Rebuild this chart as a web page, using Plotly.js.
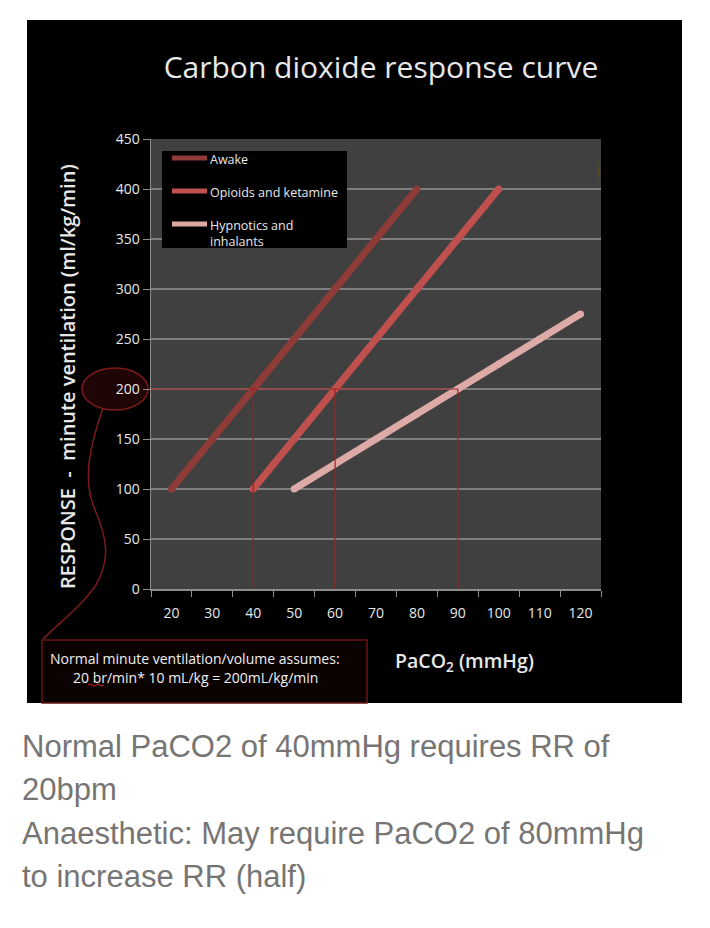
<!DOCTYPE html>
<html>
<head>
<meta charset="utf-8">
<script src="https://cdn.plot.ly/plotly-3.0.1.min.js"></script>
<style>
  html, body { margin: 0; padding: 0; background: #ffffff; }
  #chart { width: 710px; height: 928px; }
</style>
</head>
<body>
<div id="chart"></div>
<script>
// PaCO2 (mmHg) category labels on the x axis
const paco2Ticks = [20, 30, 40, 50, 60, 70, 80, 90, 100, 110, 120];

// Minute ventilation (ml/kg/min) for each condition
const awakeX = [20, 30, 40, 50, 60, 70, 80];
const awakeY = [100, 150, 200, 250, 300, 350, 400];

const opioidX = [40, 50, 60, 70, 80, 90, 100];
const opioidY = [100, 150, 200, 250, 300, 350, 400];

const hypnoticX = [50, 60, 70, 80, 90, 100, 110, 120];
const hypnoticY = [100, 125, 150, 175, 200, 225, 250, 275];

// Target ventilation and the PaCO2 at which each curve reaches it
const targetVent = 200;
const targetPaco2 = [40, 60, 90];

const seriesNames = ['Awake', 'Opioids and ketamine', 'Hypnotics and<br>inhalants'];
const seriesColors = ['#8f3b37', '#c0504d', '#ddaaa8'];

const captionLines = [
  'Normal PaCO2 of 40mmHg requires RR of',
  '20bpm',
  'Anaesthetic: May require PaCO2 of 80mmHg',
  'to increase RR (half)'
];

// page layout: plot area spans 151..601 px horizontally, 139..589 px vertically
const M = { l: 151, r: 109, t: 139, b: 339 };
const W = 710, H = 928;
const PW = W - M.l - M.r, PH = H - M.t - M.b;
const px = v => (v - M.l) / PW;       // page px -> paper x
const py = v => (H - M.b - v) / PH;   // page px -> paper y

const LW = 7;
function curve(x, y, name, color) {
  return {
    type: 'scatter', mode: 'lines+markers', x: x, y: y, name: name,
    line: { color: color, width: LW },
    marker: { color: color, size: LW },
    showlegend: false, hoverinfo: 'x+y+name'
  };
}

const traces = [
  curve(awakeX, awakeY, 'Awake', seriesColors[0]),
  curve(opioidX, opioidY, 'Opioids and ketamine', seriesColors[1]),
  curve(hypnoticX, hypnoticY, 'Hypnotics and inhalants', seriesColors[2])
];

const refRed = '#a51e1e';
const darkRed = '#7d1a1a';

const shapes = [
  // black slide background
  { type: 'rect', xref: 'paper', yref: 'paper', layer: 'below',
    x0: px(27), x1: px(682), y0: py(703), y1: py(20),
    fillcolor: '#000000', line: { width: 0 } },
  // plot area fill
  { type: 'rect', xref: 'paper', yref: 'paper', layer: 'below',
    x0: 0, x1: 1, y0: 0, y1: 1, fillcolor: '#404040', line: { width: 0 } },
  // highlight ellipse around the 200 tick
  { type: 'circle', xref: 'paper', yref: 'paper', layer: 'below',
    x0: px(82), x1: px(148), y0: py(410), y1: py(368),
    fillcolor: '#1f0505', line: { color: darkRed, width: 1.5 } },
  // connector from ellipse to the note box
  { type: 'path', xref: 'paper', yref: 'paper', layer: 'below',
    path: 'M' + px(103) + ',' + py(408) +
          ' C' + px(90) + ',' + py(445) + ' ' + px(82) + ',' + py(480) + ' ' + px(95) + ',' + py(510) +
          ' C' + px(108) + ',' + py(540) + ' ' + px(110) + ',' + py(560) + ' ' + px(96) + ',' + py(585) +
          ' C' + px(80) + ',' + py(608) + ' ' + px(60) + ',' + py(622) + ' ' + px(43) + ',' + py(639),
    line: { color: darkRed, width: 1.5 } },
  // note box
  { type: 'rect', xref: 'paper', yref: 'paper', layer: 'below',
    x0: px(42), x1: px(367), y0: py(703), y1: py(640),
    fillcolor: '#0b0202', line: { color: '#6a1414', width: 1.5 } },
  // spell-check squiggle under "br"
  { type: 'path', xref: 'paper', yref: 'paper', layer: 'above',
    path: 'M' + px(88) + ',' + py(685) +
          ' Q' + px(90) + ',' + py(683) + ' ' + px(92) + ',' + py(685) +
          ' Q' + px(94) + ',' + py(687) + ' ' + px(96) + ',' + py(685) +
          ' Q' + px(98) + ',' + py(683) + ' ' + px(100) + ',' + py(685) +
          ' Q' + px(102) + ',' + py(687) + ' ' + px(104) + ',' + py(685),
    line: { color: '#d42020', width: 1 } },
  // small olive mark at the right edge of the plot
  { type: 'rect', xref: 'paper', yref: 'paper', layer: 'above',
    x0: px(597), x1: px(600), y0: py(179), y1: py(163),
    fillcolor: '#4a4a1c', line: { width: 0 } },
  // horizontal guide at the target ventilation
  { type: 'line', xref: 'x', yref: 'y', layer: 'above',
    x0: 15, x1: targetPaco2[targetPaco2.length - 1], y0: targetVent, y1: targetVent,
    line: { color: refRed, width: 1.2 } }
];

// vertical guides down from each curve's crossing
targetPaco2.forEach(v => shapes.push({
  type: 'line', xref: 'x', yref: 'y', layer: 'above',
  x0: v, x1: v, y0: 0, y1: targetVent,
  line: { color: refRed, width: 1.2 }
}));

// legend box, drawn by hand
shapes.push({ type: 'rect', xref: 'paper', yref: 'paper', layer: 'above',
  x0: px(162), x1: px(347), y0: py(248), y1: py(151),
  fillcolor: '#000000', line: { width: 0 } });
const legendRows = [158, 191, 224];
legendRows.forEach((r, i) => shapes.push({
  type: 'line', xref: 'paper', yref: 'paper', layer: 'above',
  x0: px(172), x1: px(207), y0: py(r), y1: py(r),
  line: { color: seriesColors[i], width: 5 }
}));

const txt = '#e8e8e8';
const annotations = [];
legendRows.forEach((r, i) => annotations.push({
  xref: 'paper', yref: 'paper', x: px(208), y: py(r - 9), xanchor: 'left', yanchor: 'top',
  text: seriesNames[i], showarrow: false, align: 'left',
  font: { family: 'Open Sans, sans-serif', size: 12.5, color: txt }
}));

annotations.push(
  { xref: 'paper', yref: 'paper', x: px(67), y: py(377), textangle: -90,
    xanchor: 'center', yanchor: 'middle', showarrow: false,
    text: 'RESPONSE  -  minute ventilation (ml/kg/min)',
    font: { family: 'Open Sans, sans-serif', size: 20, weight: 600, color: txt } },
  { xref: 'paper', yref: 'paper', x: px(464), y: py(661),
    xanchor: 'center', yanchor: 'middle', showarrow: false,
    text: 'PaCO<sub>2</sub> (mmHg)',
    font: { family: 'Open Sans, sans-serif', size: 19.5, weight: 600, color: txt } },
  { xref: 'paper', yref: 'paper', x: px(195), y: py(658),
    xanchor: 'center', yanchor: 'middle', showarrow: false,
    text: 'Normal minute ventilation/volume assumes:',
    font: { family: 'Open Sans, sans-serif', size: 14, color: '#f0f0f0' } },
  { xref: 'paper', yref: 'paper', x: px(195), y: py(677),
    xanchor: 'center', yanchor: 'middle', showarrow: false,
    text: '20 br/min* 10 mL/kg = 200mL/kg/min',
    font: { family: 'Open Sans, sans-serif', size: 14, color: '#f0f0f0' } }
);

const captionY = [746, 789, 833, 876];
captionLines.forEach((t, i) => annotations.push({
  xref: 'paper', yref: 'paper', x: px(20), y: py(captionY[i]),
  xanchor: 'left', yanchor: 'middle', showarrow: false, text: t,
  font: { family: 'Liberation Sans, Arial, sans-serif', size: 31, color: '#777574' }
}));

const layout = {
  width: W, height: H,
  margin: M,
  paper_bgcolor: '#ffffff',
  plot_bgcolor: 'rgba(0,0,0,0)',
  showlegend: false,
  title: {
    text: 'Carbon dioxide response curve',
    x: 381 / W, xanchor: 'center', y: 1 - 67 / H, yanchor: 'middle',
    font: { family: 'Open Sans, sans-serif', size: 30, color: txt }
  },
  xaxis: {
    range: [15, 125], tickmode: 'array', tickvals: paco2Ticks,
    ticktext: paco2Ticks.map(String), ticks: '',
    ticklabelstandoff: 11,
    minor: { tick0: 15, dtick: 10, ticks: 'outside', ticklen: 6, tickcolor: '#8c8c8c', showgrid: false },
    showgrid: false, zeroline: false,
    showline: true, linecolor: '#8c8c8c', linewidth: 1.5,
    tickfont: { family: 'Open Sans, sans-serif', size: 14, color: txt },
    fixedrange: true
  },
  yaxis: {
    range: [0, 450], dtick: 50, tick0: 0,
    ticks: 'outside', ticklen: 7, tickcolor: '#8c8c8c',
    showgrid: true, gridcolor: '#7e7e7e', gridwidth: 1.3,
    zeroline: false, showline: true, linecolor: '#8c8c8c', linewidth: 1.5,
    tickfont: { family: 'Open Sans, sans-serif', size: 14, color: txt },
    fixedrange: true
  },
  shapes: shapes,
  annotations: annotations
};

Plotly.newPlot('chart', traces, layout, { displayModeBar: false, staticPlot: true });
</script>
</body>
</html>
